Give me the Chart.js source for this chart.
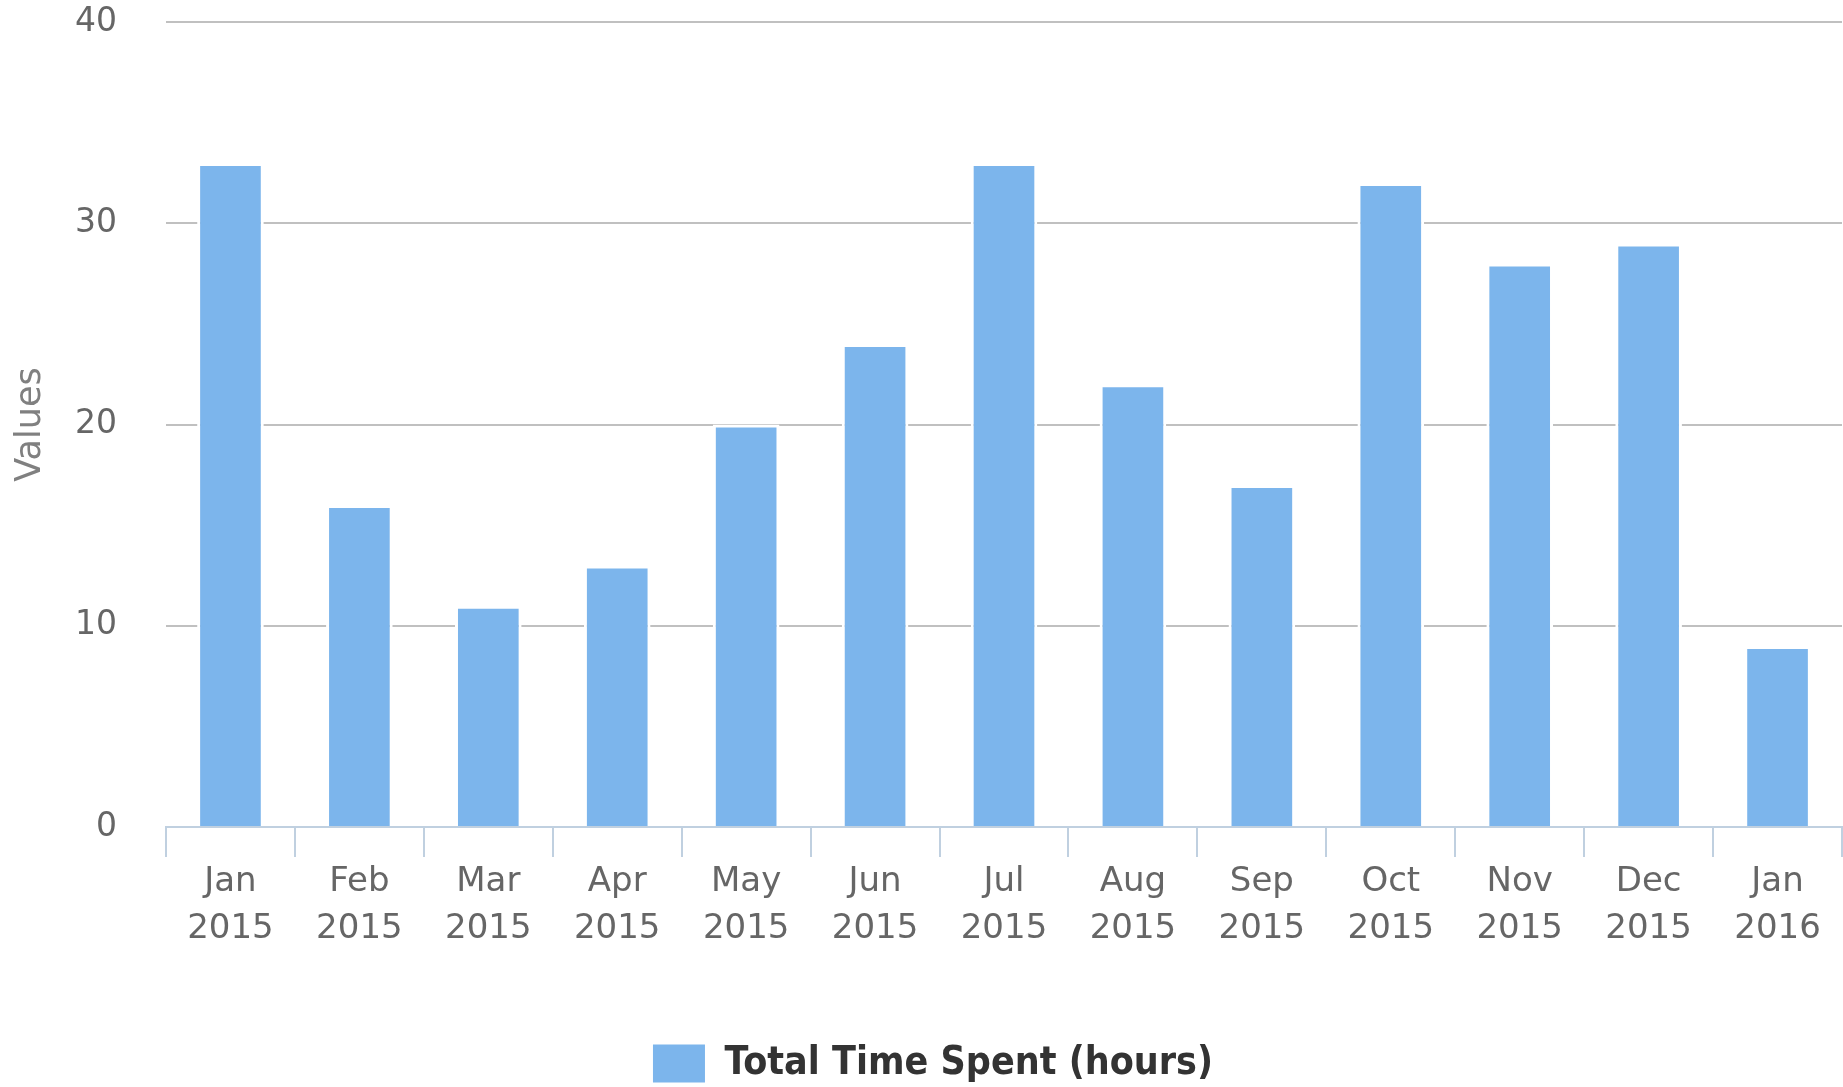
<!DOCTYPE html>
<html>
<head>
<meta charset="utf-8">
<title>Total Time Spent (hours)</title>
<script src="https://cdn.jsdelivr.net/npm/chart.js@4.4.1/dist/chart.umd.min.js"></script>
<style>
  html, body { margin: 0; padding: 0; background: #ffffff; }
  #wrap { position: relative; width: 1843px; height: 1087px; }
</style>
</head>
<body>
<div id="wrap"><canvas id="chart"></canvas></div>
<script>
// Monthly totals
const months = [
  ['Jan', '2015'], ['Feb', '2015'], ['Mar', '2015'], ['Apr', '2015'],
  ['May', '2015'], ['Jun', '2015'], ['Jul', '2015'], ['Aug', '2015'],
  ['Sep', '2015'], ['Oct', '2015'], ['Nov', '2015'], ['Dec', '2015'],
  ['Jan', '2016']
];
const hoursSpent = [33, 16, 11, 13, 20, 24, 33, 22, 17, 32, 28, 29, 9];
const seriesName = 'Total Time Spent (hours)';
const yTicks = [0, 10, 20, 30, 40];
const yTitle = 'Values';

// nudge the legend row slightly right of the canvas centre and a bit lower
const legendShift = {
  id: 'legendShift',
  afterLayout(chart) {
    const lg = chart.legend;
    if (lg) {
      lg.left += 12; lg.right += 12;
      lg.top += 6; lg.bottom += 6;
    }
  }
};

new Chart(document.getElementById('chart'), {
  type: 'bar',
  data: {
    labels: months,
    datasets: [{
      label: seriesName,
      data: hoursSpent,
      backgroundColor: '#7cb5ec',
      borderColor: '#ffffff',
      borderWidth: { left: 3, right: 3, top: 3, bottom: 0 },
      borderSkipped: 'start',
      barPercentage: 0.517,
      categoryPercentage: 1.0
    }]
  },
  plugins: [legendShift],
  options: {
    responsive: true,
    maintainAspectRatio: false,
    animation: false,
    layout: { padding: { top: 22, right: 1, bottom: 0, left: 0 } },
    plugins: {
      tooltip: { enabled: false },
      legend: {
        position: 'bottom',
        padding: 0,
        labels: {
          boxWidth: 52,
          boxHeight: 38,
          padding: 0,
          color: '#333333',
          font: { family: '"DejaVu Sans Condensed", "DejaVu Sans", sans-serif', size: 39, weight: 'bold' },
          generateLabels(chart) {
            const items = Chart.defaults.plugins.legend.labels.generateLabels(chart);
            items.forEach(it => { it.lineWidth = 0; it.strokeStyle = 'rgba(0,0,0,0)'; });
            return items;
          }
        }
      }
    },
    scales: {
      x: {
        offset: true,
        grid: {
          display: true,
          offset: true,
          drawOnChartArea: false,
          drawTicks: true,
          tickLength: 30,
          color: '#C0D0E0',
          lineWidth: 2
        },
        border: { display: true, color: '#C0D0E0', width: 2 },
        ticks: {
          padding: 2,
          maxRotation: 0,
          autoSkip: false,
          color: '#666666',
          font: { family: '"DejaVu Sans", sans-serif', size: 34, lineHeight: 1.38 }
        },
        afterFit(scale) { scale.height = 211; }
      },
      y: {
        min: 0,
        max: 40,
        afterBuildTicks(scale) { scale.ticks = yTicks.map(v => ({ value: v })); },
        grid: {
          drawTicks: true,
          tickLength: 49,
          tickColor: 'rgba(0,0,0,0)',
          lineWidth: 2,
          color: ctx => (ctx.tick && ctx.tick.value === 0) ? 'rgba(0,0,0,0)' : '#C0C0C0'
        },
        border: { display: false },
        ticks: {
          padding: 0,
          color: '#666666',
          font: { family: '"DejaVu Sans", sans-serif', size: 33 }
        },
        title: {
          display: true,
          text: yTitle,
          color: '#808080',
          padding: { top: 10, bottom: 0 },
          font: { family: '"DejaVu Sans", sans-serif', size: 35, lineHeight: 1.2 }
        },
        afterFit(scale) { scale.width = 166; }
      }
    }
  }
});
</script>
</body>
</html>
